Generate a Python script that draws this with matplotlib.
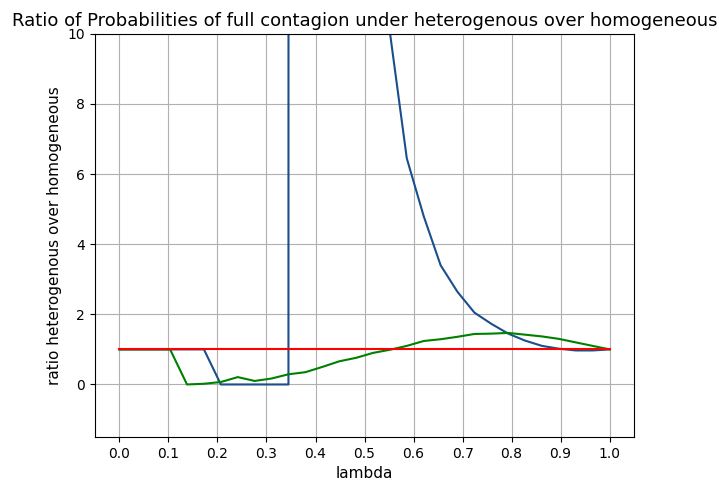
import matplotlib
matplotlib.use("Agg")
import matplotlib.pyplot as plt

lam = [0.0, 0.0345, 0.069, 0.1034, 0.1379, 0.1724, 0.2069, 0.2414, 0.2759, 0.3103,
       0.3448, 0.3793, 0.4138, 0.4483, 0.4828, 0.5172, 0.5517, 0.5862, 0.6207, 0.6552,
       0.6897, 0.7241, 0.7586, 0.7931, 0.8276, 0.8621, 0.8966, 0.931, 0.9655, 1.0]

# ratio for the first heterogeneous setup (blows up in the middle range)
ratio_a = [1.0, 1.0, 1.0, 1.0, 1.0, 1.0, 0.0, 0.0, 0.0, 0.0,
           0.0, 4000.0, 900.0, 260.0, 95.0, 38.0, 10.05, 6.45, 4.8, 3.4,
           2.64, 2.05, 1.73, 1.45, 1.25, 1.1, 1.02, 0.97, 0.97, 1.0]

# ratio for the second heterogeneous setup
ratio_b = [1.0, 1.0, 1.0, 1.0, 0.0, 0.02, 0.07, 0.21, 0.1, 0.17,
           0.29, 0.35, 0.5, 0.66, 0.76, 0.9, 0.99, 1.1, 1.24, 1.29,
           1.36, 1.44, 1.45, 1.47, 1.42, 1.37, 1.3, 1.2, 1.1, 1.0]

# homogeneous over itself
ratio_homog = [1.0] * len(lam)

xticks = [0.0, 0.1, 0.2, 0.3, 0.4, 0.5, 0.6, 0.7, 0.8, 0.9, 1.0]
xtick_labels = ["0.0", "0.1", "0.2", "0.3", "0.4", "0.5", "0.6", "0.7", "0.8", "0.9", "1.0"]

fig = plt.figure(figsize=(7.19, 4.84), dpi=100)
ax = fig.add_axes([0.132, 0.097, 0.750, 0.833])

ax.plot(lam, ratio_a, color="#1a4f8b")
ax.plot(lam, ratio_b, color="g")
ax.plot(lam, ratio_homog, color="r")

ax.set_ylim(-1.5, 10)
ax.set_xticks(xticks)
ax.set_xticklabels(xtick_labels)
ax.grid(True)
ax.set_title("Ratio of Probabilities of full contagion under heterogenous over homogeneous", fontsize=13)
ax.set_xlabel("lambda", fontsize=11)
ax.set_ylabel("ratio heterogenous over homogeneous", fontsize=11)

fig.savefig("out.png", dpi=100)
